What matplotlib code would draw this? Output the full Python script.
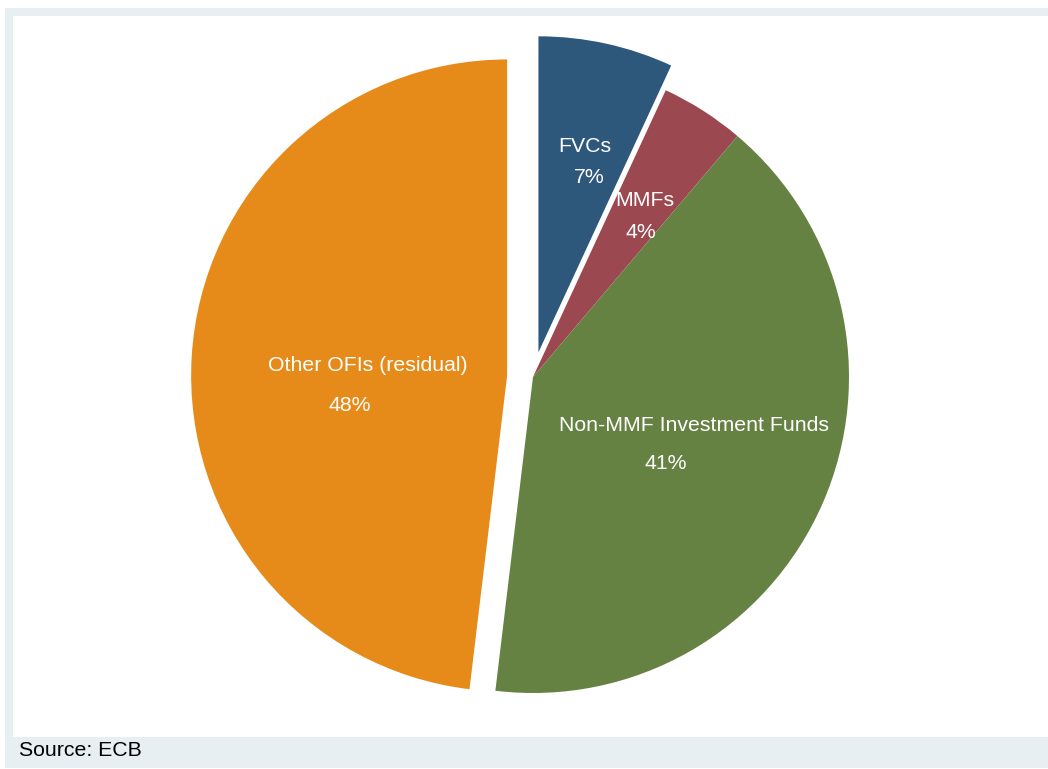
import matplotlib
matplotlib.use("Agg")
import matplotlib.pyplot as plt
from matplotlib.patches import Rectangle

plt.rcParams['font.family'] = ['Liberation Sans', 'DejaVu Sans']

# ---- data ----
categories = ["FVCs", "MMFs", "Non-MMF Investment Funds", "Other OFIs (residual)"]
values = [6.9, 4.3, 40.7, 48.1]
colors = ["#2E577C", "#9B4850", "#668243", "#E68B1A"]
explode = [0.08, 0.0, 0.0, 0.082]
source_text = "Source: ECB"

# label anchor positions in pixels (name, percent)
name_pos = [(585, 146), (645, 200), (694, 425), (368, 365)]
pct_pos = [(589, 177), (641, 232), (666, 463), (350, 405)]

W, H = 1048, 769
fig = plt.figure(figsize=(W / 100, H / 100), dpi=100)
fig.patch.set_facecolor("white")

def fr(x0, y0, x1, y1):
    # pixel box (top-left origin) -> figure fraction rectangle
    return (x0 / W, 1 - y1 / H), (x1 - x0) / W, (y1 - y0) / H

xy, w, h = fr(5, 8, 1048, 768)
fig.add_artist(Rectangle(xy, w, h, transform=fig.transFigure, facecolor="#E8EFF2",
                         edgecolor="none", zorder=0))
xy, w, h = fr(13, 16, 1048, 737)
fig.add_artist(Rectangle(xy, w, h, transform=fig.transFigure, facecolor="white",
                         edgecolor="none", zorder=0))

cx, cy, R = 533, 377, 316
ax = fig.add_axes([0, 0, 1, 1])
ax.patch.set_visible(False)
wedges, _ = ax.pie(values, colors=colors, explode=explode, startangle=90,
                   counterclock=False, radius=1,
                   wedgeprops=dict(linewidth=0, antialiased=True))
ax.set_xlim(-cx / R, (W - cx) / R)
ax.set_ylim(-(H - cy) / R, cy / R)
ax.set_aspect('auto')
ax.axis('off')

def px2d(px, py):
    return (px - cx) / R, (cy - py) / R

for cat, v, npos, ppos in zip(categories, values, name_pos, pct_pos):
    x, y = px2d(*npos)
    ax.text(x, y, cat, color="white", fontsize=15.3, ha="center", va="center")
    x, y = px2d(*ppos)
    ax.text(x, y, f"{v:.0f}%", color="white", fontsize=15.3, ha="center", va="center")

fig.text(19 / W, 1 - 750 / H, source_text, fontsize=15.3, color="black",
         ha="left", va="center")

fig.savefig("out.png", dpi=100, facecolor="white")
